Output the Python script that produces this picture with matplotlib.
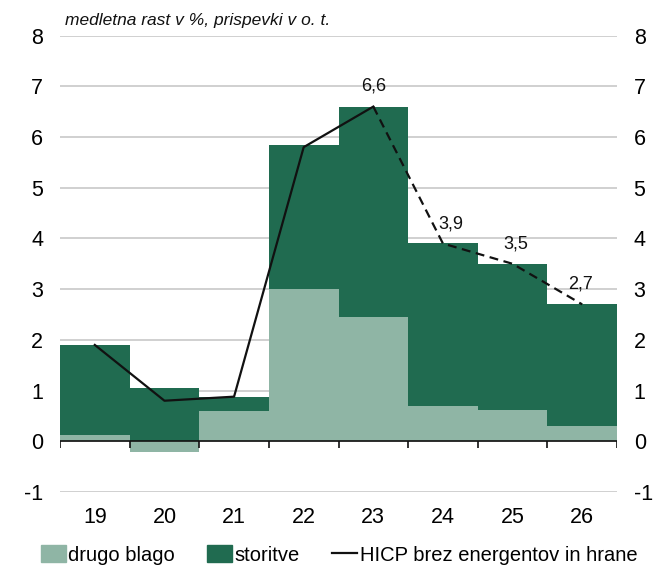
import matplotlib
matplotlib.use("Agg")
import matplotlib.pyplot as plt
import numpy as np
from matplotlib.patches import Patch
from matplotlib.lines import Line2D

plt.rcParams['font.family'] = ['Liberation Sans', 'DejaVu Sans']

years = ['19', '20', '21', '22', '23', '24', '25', '26']
drugo_blago = [0.12, -0.22, 0.60, 3.00, 2.45, 0.70, 0.62, 0.30]
storitve = [1.78, 1.05, 0.28, 2.85, 4.15, 3.22, 2.88, 2.40]
hicp = [1.9, 0.8, 0.88, 5.8, 6.6, 3.9, 3.5, 2.7]
labelled = {4: '6,6', 5: '3,9', 6: '3,5', 7: '2,7'}
split = 4  # index from which line is a projection (dashed)

c_light = '#8fb5a5'
c_dark = '#206b50'

fig = plt.figure(figsize=(6.55, 5.66), dpi=100)
ax = fig.add_axes([60/655, 1-492/566, (617-60)/655, (492-35.6)/566])

x = np.arange(len(years))
db = np.array(drugo_blago)
st = np.array(storitve)
bottom_st = np.where(db > 0, db, 0)

ax.bar(x, db, width=1.0, color=c_light, zorder=2)
ax.bar(x, st, width=1.0, bottom=bottom_st, color=c_dark, zorder=2)

ax.plot(x[:split+1], hicp[:split+1], color='#111111', lw=1.6, zorder=4)
ax.plot(x[split:], hicp[split:], color='#111111', lw=1.6, ls=(0, (4, 2.5)), zorder=4)

offsets = {4: (0, 15), 5: (6, 14), 6: (2, 14), 7: (-1, 15)}
for i, t in labelled.items():
    ax.annotate(t, (x[i], hicp[i]), xytext=offsets[i], textcoords='offset points',
                ha='center', va='center', fontsize=13, color='#111111', zorder=5)

ax.set_xlim(-0.5, len(years)-0.5)
ax.set_ylim(-1, 8)
ax.set_yticks(range(-1, 9))
ax.set_yticklabels([str(v) for v in range(-1, 9)])
ax.grid(axis='y', color='#c8c8c8', lw=1.2, zorder=0)
ax.set_axisbelow(True)
for s in ax.spines.values():
    s.set_visible(False)

ax.axhline(0, color='#111111', lw=1.2, zorder=3)
bounds = np.arange(len(years)+1) - 0.5
ax.vlines(bounds, -0.13, 0, color='#111111', lw=1.2, zorder=3)

ax.set_xticks(x)
ax.set_xticklabels(years)
ax.tick_params(axis='x', length=0, pad=11, labelsize=15.5)
ax.tick_params(axis='y', length=0, labelsize=15.5, labelright=True, pad=12)

fig.text(65/655, 1-20/566, 'medletna rast v %, prispevki v o. t.', style='italic',
         fontsize=12.5, va='center', ha='left', color='#111111')

handles = [Patch(color=c_light), Patch(color=c_dark),
           Line2D([0], [0], color='#111111', lw=1.6)]
labels = ['drugo blago', 'storitve', 'HICP brez energentov in hrane']
fig.legend(handles, labels, loc='center', bbox_to_anchor=(339/655, 1-555/566), ncol=3,
           frameon=False, fontsize=14.5, handlelength=1.25, handleheight=0.9,
           handletextpad=0.12, columnspacing=1.6)

fig.savefig('out.png', dpi=100)
